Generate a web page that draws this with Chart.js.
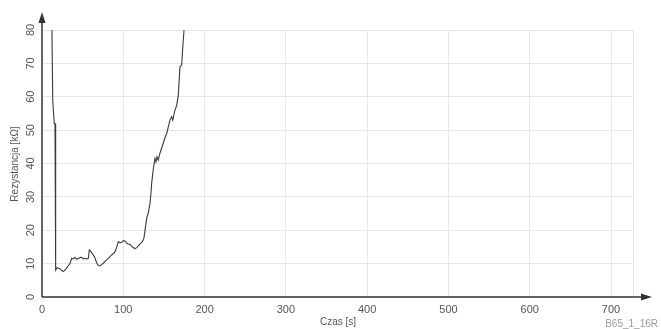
<!DOCTYPE html>
<html><head><meta charset="utf-8">
<script src="https://cdn.jsdelivr.net/npm/chart.js@4/dist/chart.umd.min.js"></script>
<style>html,body{margin:0;padding:0;background:#fff}#w{width:661px;height:329px}</style>
</head><body><div id="w"><canvas id="c"></canvas></div>
<script>
const timeS = [12.2,13.2,14.2,15.2,16.0,16.8,18.5,20,22,24,26,28,30,32,34.4,36.5,38.5,40.6,42.5,44.7,46.5,48.8,50.8,52.9,55,57,58.2,59.5,61,62.5,64.4,66.5,68.5,71.3,73.4,75.4,77.5,79.5,82.5,85.7,87.8,89.8,92,93.9,96,98,100,102,104,106,108,110,112,114.4,116.5,118.5,120.5,122.6,124,125.5,127,128.8,131,132.8,134,134.9,136,137,139,140.2,141.5,143,145,147,149,151,153.4,155.4,157.4,159.5,160.9,163,165.7,167.7,169.7,171.8,173.2,174.7];
const resistance = [80,59,55,52,52,8.1,8.8,8.6,8.5,8.0,7.6,8.0,8.6,9.3,10,11.6,11.4,11.9,11.3,11.5,11.8,11.9,11.4,11.6,11.4,11.6,14.1,13.8,13.3,12.8,12.1,10.8,9.6,9.3,9.7,10.1,10.7,11.1,11.8,12.6,13.0,13.6,15.0,16.6,16.2,16.4,16.9,16.8,16.2,15.8,15.8,15.3,14.8,14.5,14.8,15.3,15.9,16.3,16.8,17.8,20.5,23.6,25.5,28,31,34,36.5,38.5,41.5,40.5,42,41,43,44.5,46,47.5,49,51,53,54,53,55.5,57.5,60.5,69,69.5,75,80];
const xTicks = [0,100,200,300,400,500,600,700];
const yTicks = [0,10,20,30,40,50,60,70,80];
const xMax = 727, yMax = 80;
const xTitle = 'Czas [s]';
const yTitle = 'Rezystancja [kΩ]';
const footer = 'B65_1_16R';

const FONT = '"Liberation Sans", Arial, sans-serif';
const deco = {
  id:'deco',
  afterDraw(chart){
    const ctx = chart.ctx, a = chart.chartArea;
    const ys = chart.scales.y;
    ctx.save();
    ctx.strokeStyle = '#333'; ctx.fillStyle = '#333'; ctx.lineWidth = 1.5;
    ctx.beginPath(); ctx.moveTo(a.left, a.bottom); ctx.lineTo(a.left, 20); ctx.stroke();
    ctx.beginPath(); ctx.moveTo(a.left, a.bottom); ctx.lineTo(646, a.bottom); ctx.stroke();
    ctx.beginPath(); ctx.moveTo(a.left, 12); ctx.lineTo(a.left-3.5, 23); ctx.lineTo(a.left+3.5, 23); ctx.closePath(); ctx.fill();
    ctx.beginPath(); ctx.moveTo(652, a.bottom); ctx.lineTo(641, a.bottom-3.5); ctx.lineTo(641, a.bottom+3.5); ctx.closePath(); ctx.fill();
    ctx.fillStyle = '#555'; ctx.font = '11px ' + FONT;
    ctx.textAlign = 'center'; ctx.textBaseline = 'middle';
    yTicks.forEach(v => {
      const py = ys.getPixelForValue(v);
      ctx.save(); ctx.translate(31, py); ctx.rotate(-Math.PI/2); ctx.fillText(String(v), 0, 0); ctx.restore();
    });
    ctx.save(); ctx.translate(15, 164); ctx.rotate(-Math.PI/2);
    ctx.font = '10px ' + FONT; ctx.fillStyle = '#555'; ctx.fillText(yTitle, 0, 0); ctx.restore();
    ctx.font = '10px ' + FONT; ctx.fillStyle = '#555';
    ctx.fillText(xTitle, 338, 322);
    ctx.fillStyle = '#999'; ctx.textAlign = 'right';
    ctx.fillText(footer, 658, 324);
    ctx.restore();
  }
};

new Chart(document.getElementById('c'), {
  type:'line',
  data:{ datasets:[{ data: timeS.map((t,i)=>({x:t,y:resistance[i]})), borderColor:'#3a3a3a', borderWidth:1.1, pointRadius:0, tension:0, fill:false }]},
  options:{
    responsive:true, maintainAspectRatio:false, animation:false,
    layout:{ padding:{ left:42, right:28, top:30, bottom:0 } },
    plugins:{ legend:{display:false}, tooltip:{enabled:false} },
    scales:{
      x:{ type:'linear', min:0, max:xMax,
        afterBuildTicks(s){ s.ticks = xTicks.map(v=>({value:v})).concat([{value:xMax}]); },
        afterFit(s){ s.height = 32; },
        grid:{ color:'#e6e6e6', drawTicks:false, lineWidth:1 },
        border:{ display:false },
        ticks:{ color:'#555', font:{ family:FONT, size:11 }, padding:6, maxRotation:0, autoSkip:false,
          callback(v){ return xTicks.includes(v) ? String(v) : ''; } }
      },
      y:{ type:'linear', min:0, max:yMax,
        afterBuildTicks(s){ s.ticks = yTicks.map(v=>({value:v})); },
        afterFit(s){ s.width = 0; },
        grid:{ color:'#e6e6e6', drawTicks:false, lineWidth:1 },
        border:{ display:false },
        ticks:{ display:false }
      }
    }
  },
  plugins:[deco]
});
</script></body></html>
